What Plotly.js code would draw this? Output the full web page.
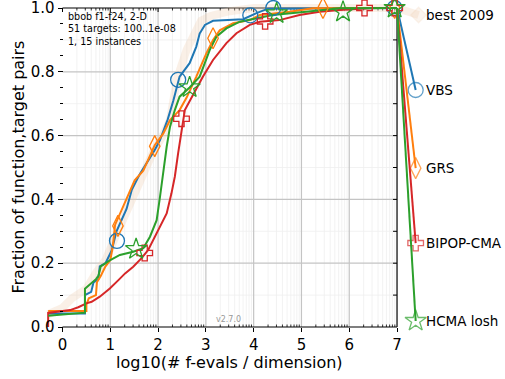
<!DOCTYPE html>
<html>
<head>
<meta charset="utf-8">
<script src="https://cdn.plot.ly/plotly-3.0.1.min.js"></script>
<style>
body { margin: 0; background: #fff; }
#grafico { width: 505px; height: 379px; }
</style>
</head>
<body>
<div id="grafico"></div>
<script>
// ECDF curves (x = log10 evals/dim, y = fraction)
let bestX = [-0.3, 0.0, 0.2, 0.5, 0.7, 0.9, 1.1, 1.3, 1.5, 1.7, 1.9, 2.1, 2.25, 2.4, 2.6, 2.8, 2.9, 3.1, 3.5, 4.0, 7.0];
let bestY = [0.04, 0.06, 0.09, 0.12, 0.17, 0.21, 0.28, 0.35, 0.42, 0.49, 0.55, 0.6, 0.65, 0.78, 0.87, 0.93, 0.96, 0.975, 0.99, 1.0, 1.0];

let vbsX = [-0.3, 0.47, 0.47, 0.6, 0.65, 0.75, 0.78, 0.9, 1.03, 1.13, 1.34, 1.45, 1.62, 1.79, 1.93, 2.04, 2.14, 2.2, 2.32, 2.45, 2.66, 2.8, 2.87, 2.98, 3.15, 3.6, 3.78, 4.06, 4.3, 7.0];
let vbsY = [0.042, 0.042, 0.1, 0.11, 0.14, 0.15, 0.19, 0.2, 0.24, 0.3, 0.37, 0.43, 0.48, 0.52, 0.555, 0.586, 0.628, 0.65, 0.71, 0.785, 0.827, 0.879, 0.92, 0.947, 0.96, 0.965, 0.965, 0.984, 0.998, 1.0];

let grsX = [-0.3, 0.5, 0.5, 0.55, 0.7, 0.72, 0.8, 0.9, 1.0, 1.05, 1.1, 1.37, 1.51, 1.69, 1.86, 1.93, 2.11, 2.25, 2.45, 2.6, 2.8, 3.01, 3.15, 3.29, 3.57, 3.92, 4.13, 4.75, 5.24, 7.0];
let grsY = [0.05, 0.05, 0.07, 0.09, 0.1, 0.14, 0.16, 0.19, 0.21, 0.25, 0.32, 0.41, 0.46, 0.49, 0.545, 0.57, 0.607, 0.649, 0.68, 0.72, 0.785, 0.858, 0.9, 0.93, 0.952, 0.962, 0.978, 0.988, 0.999, 1.0];

let bipopX = [-0.3, -0.3, 0.16, 0.33, 0.5, 0.61, 0.78, 0.99, 1.17, 1.31, 1.48, 1.65, 1.79, 2.0, 2.18, 2.28, 2.35, 2.42, 2.49, 2.56, 2.73, 2.94, 3.15, 3.43, 3.64, 3.92, 4.13, 4.54, 4.96, 5.38, 5.8, 6.49, 7.0];
let bipopY = [0.0, 0.044, 0.053, 0.062, 0.074, 0.079, 0.095, 0.121, 0.147, 0.168, 0.189, 0.215, 0.241, 0.304, 0.356, 0.419, 0.471, 0.545, 0.607, 0.68, 0.727, 0.785, 0.837, 0.89, 0.921, 0.947, 0.957, 0.962, 0.978, 0.988, 0.994, 1.0, 1.0];

let hcmaX = [-0.3, 0.47, 0.47, 0.55, 0.7, 0.75, 0.8, 1.0, 1.1, 1.2, 1.48, 1.69, 1.83, 1.97, 2.04, 2.11, 2.18, 2.25, 2.35, 2.45, 2.66, 2.87, 3.08, 3.22, 3.43, 3.71, 4.06, 4.4, 5.1, 5.8, 7.0];
let hcmaY = [0.035, 0.045, 0.12, 0.13, 0.15, 0.16, 0.19, 0.21, 0.218, 0.226, 0.236, 0.247, 0.283, 0.335, 0.408, 0.492, 0.565, 0.628, 0.68, 0.722, 0.751, 0.785, 0.868, 0.91, 0.936, 0.957, 0.967, 0.978, 0.988, 0.999, 1.0];

// marker positions along the curves
let vbsMX = [1.14, 2.42, 3.93, 4.41, 6.95];
let vbsMY = [0.27, 0.775, 0.977, 1.0, 1.0];
let grsMX = [1.16, 1.93, 3.15, 5.45, 6.95];
let grsMY = [0.317, 0.567, 0.905, 1.0, 1.0];
let bipopMX = [1.72, 2.49, 4.24, 6.32, 6.95];
let bipopMY = [0.232, 0.653, 0.958, 1.0, 1.0];
let hcmaMX = [1.54, 2.66, 4.48, 5.87, 6.95];
let hcmaMY = [0.244, 0.751, 0.983, 0.988, 1.0];

// labels on the right
let names = ['best 2009', 'VBS', 'GRS', 'BIPOP-CMA', 'HCMA losh'];
let labelY = [0.978, 0.743, 0.498, 0.263, 0.019];
let labelX = [7.45, 7.39, 7.39, 7.39, 7.39];

let xTicks = [0, 1, 2, 3, 4, 5, 6, 7];
let yTicks = [0, 0.2, 0.4, 0.6, 0.8, 1.0];
let yTickText = ['0.0', '0.2', '0.4', '0.6', '0.8', '1.0'];

// pixel mapping: x=0 at 62.5px, x=7 at 397px ; y=0 at 327px, y=1 at 8px
let pxX = 1 / 47.79, pxY = 1 / 319;
let xr = [-62.5 * pxX, (505 - 62.5) * pxX];
let yr = [-(379 - 327) * pxY, 1 + 8 * pxY];

let colors = ['rgba(238,205,175,0.3)', '#1f77b4', '#ff7f0e', '#d62728', '#2ca02c'];

function curve(x, y, color, width) {
    return { x: x, y: y, mode: 'lines', type: 'scatter', hoverinfo: 'skip',
             line: { color: color, width: width } };
}
function marks(x, y, color, symbol, size) {
    return { x: x, y: y, mode: 'markers', type: 'scatter', hoverinfo: 'skip',
             marker: { symbol: symbol, size: size, color: color, line: { color: color, width: 1.3 } } };
}
function connector(i, lastY, color, symbol, size, width) {
    return { x: [7, labelX[i]], y: [lastY, labelY[i]], mode: 'lines+markers', type: 'scatter', hoverinfo: 'skip',
             line: { color: color, width: width },
             marker: { symbol: symbol, size: [0, size], color: color, line: { color: color, width: 1.3 } } };
}

let data = [
    curve(bestX, bestY, colors[0], 8),
    connector(0, bestY[bestY.length - 1], colors[0], 'diamond', 12, 8),
    curve(vbsX, vbsY, colors[1], 2),
    curve(grsX, grsY, colors[2], 2),
    curve(bipopX, bipopY, colors[3], 2),
    curve(hcmaX, hcmaY, colors[4], 2),
    marks(vbsMX, vbsMY, colors[1], 'circle-open', 15),
    marks(grsMX, grsMY, colors[2], 'diamond-tall-open', 15),
    marks(bipopMX, bipopMY, colors[3], 'cross-open', 13),
    marks(hcmaMX, hcmaMY, colors[4], 'star-open', 16),
    connector(1, vbsY[vbsY.length - 1], colors[1], 'circle-open', 15, 2),
    connector(2, grsY[grsY.length - 1], colors[2], 'diamond-tall-open', 15, 2),
    connector(3, bipopY[bipopY.length - 1], colors[3], 'cross-open', 13, 2),
    connector(4, hcmaY[hcmaY.length - 1], colors[4], 'star-open', 16, 2)
];

// grid, spines and extra ticks
let shapes = [];
function seg(x0, y0, x1, y1, color, width) {
    shapes.push({ type: 'line', xref: 'x', yref: 'y', x0: x0, y0: y0, x1: x1, y1: y1,
                  layer: 'below', line: { color: color, width: width } });
}
let minorX = [];
for (let d = 0; d < 7; d++) {
    for (let k = 2; k <= 9; k++) minorX.push(d + Math.log10(k));
}
minorX.forEach(v => seg(v, 0, v, 1, '#efefef', 0.8));
[0.1, 0.3, 0.5, 0.7, 0.9].forEach(v => seg(0, v, 7, v, '#efefef', 0.8));
xTicks.slice(1, 7).forEach(v => seg(v, 0, v, 1, '#c4c4c4', 1.2));
yTicks.slice(1, 5).forEach(v => seg(0, v, 7, v, '#c4c4c4', 1.2));
seg(0, 0, 7, 0, '#000', 1.2);
seg(0, 1, 7, 1, '#000', 1.2);
seg(7, 0, 7, 1, '#000', 1.2);
xTicks.forEach(v => seg(v, 1, v, 1 - 4 * pxY, '#000', 1));
minorX.forEach(v => {
    seg(v, 1, v, 1 - 2.5 * pxY, '#000', 0.8);
    seg(v, 0, v, 2.5 * pxY, '#000', 0.8);
});
for (let i = 1; i < 10; i++) seg(7, i / 10, 7 - 4 * pxX, i / 10, '#000', 1);

let leftMinor = [];
for (let i = 1; i < 20; i++) if (i % 4 !== 0) leftMinor.push(i * 0.05);

let font = 'DejaVu Sans, sans-serif';
let annotations = [
    { x: 3.5, y: -(362 - 327) * pxY, xref: 'x', yref: 'y', text: 'log10(# f-evals / dimension)',
      showarrow: false, font: { family: font, size: 16, color: '#000' } },
    { x: (18 - 62.5) * pxX, y: 0.5, xref: 'x', yref: 'y', text: 'Fraction of function,target pairs',
      textangle: -90, showarrow: false, font: { family: font, size: 16, color: '#000' } },
    { x: 3.48, y: 0.022, xref: 'x', yref: 'y', text: 'v2.7.0', showarrow: false,
      font: { family: font, size: 8, color: '#999' } },
    { x: (66 - 62.5) * pxX, y: 1 - (9 - 8) * pxY, xref: 'x', yref: 'y',
      text: 'bbob f1-f24, 2-D<br>51 targets: 100..1e-08<br>1, 15 instances',
      xanchor: 'left', yanchor: 'top', align: 'left', showarrow: false,
      font: { family: font, size: 9.6, color: '#000' } }
];
names.forEach((n, i) => {
    annotations.push({ x: (424 - 62.5) * pxX, y: labelY[i], xref: 'x', yref: 'y', text: n,
                       xanchor: 'left', showarrow: false,
                       font: { family: font, size: 13.5, color: '#000' } });
});

let layout = {
    width: 505, height: 379,
    margin: { l: 0, r: 0, t: 0, b: 0, pad: 0 },
    paper_bgcolor: '#fff', plot_bgcolor: '#fff',
    showlegend: false,
    font: { family: font, color: '#000' },
    xaxis: { range: xr, anchor: 'free', position: (0 - yr[0]) / (yr[1] - yr[0]),
             showgrid: false, zeroline: false, showline: false, ticklabeloverflow: 'allow',
             tickmode: 'array', tickvals: xTicks, ticks: 'outside', ticklen: 4, tickcolor: '#000',
             tickfont: { family: font, size: 15 } },
    yaxis: { range: yr, anchor: 'free', position: (0 - xr[0]) / (xr[1] - xr[0]),
             showgrid: false, zeroline: false, showline: false, ticklabeloverflow: 'allow',
             tickmode: 'array', tickvals: yTicks, ticktext: yTickText, ticks: 'outside', ticklen: 5, tickcolor: '#000',
             tickfont: { family: font, size: 15 },
             minor: { tickmode: 'array', tickvals: leftMinor, ticks: 'outside', ticklen: 3, tickcolor: '#000', showgrid: false } },
    shapes: shapes,
    annotations: annotations
};

Plotly.newPlot('grafico', data, layout, { staticPlot: true });
</script>
</body>
</html>
